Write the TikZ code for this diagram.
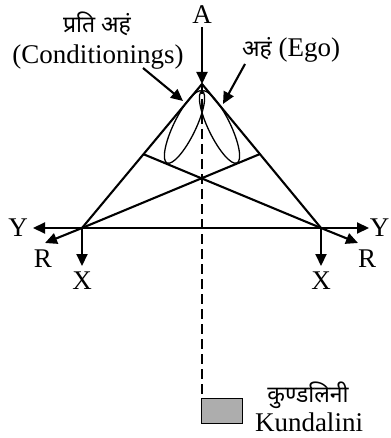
\documentclass[tikz,border=0pt]{standalone}
\usepackage{fontspec}
\setmainfont{Liberation Serif}
\newfontfamily\deva[Script=Devanagari]{Noto Sans}
\usetikzlibrary{arrows.meta}
\begin{document}
\begin{tikzpicture}[x=1pt,y=-1pt,
  thick line/.style={line width=2.1pt},
  thin line/.style={line width=1.3pt},
  arr/.style={line width=2.1pt,-{Triangle[length=12pt,width=11pt]}},
  lbl/.style={font=\fontsize{27}{30}\selectfont,inner sep=0pt},
  dlbl/.style={font=\deva\fontsize{23}{26}\selectfont,inner sep=0pt}]
\useasboundingbox (0,0) rectangle (390,438);
% points
\coordinate (apex) at (202,84);
\coordinate (L) at (82,228);
\coordinate (Rc) at (321,228);
\coordinate (P) at (143,154);
\coordinate (Q) at (260,154);
\coordinate (Atop) at (202,27);
\coordinate (YL) at (33,228);
\coordinate (YR) at (369,228);
\coordinate (RL) at (45,243);
\coordinate (RR) at (358,243);
\coordinate (XL) at (82,266);
\coordinate (XR) at (321,266);
\coordinate (condS) at (143,68);
\coordinate (condE) at (183,101);
\coordinate (egoS) at (245,64);
\coordinate (egoE) at (223,104);
% triangle
\draw[thick line,line join=miter] (L) -- (apex) -- (Rc);
\draw[thick line] (P) -- (Rc);
\draw[thick line] (Q) -- (L);
% ellipses
\draw[thin line,rotate around={64:(184.5,127)}] (184.5,127) ellipse[x radius=40, y radius=11];
\draw[thin line,rotate around={-64:(219.5,127)}] (219.5,127) ellipse[x radius=40, y radius=11];
% kundalini box
\node[draw,line width=1.4pt,fill=black!32,minimum width=41pt,minimum height=25pt,inner sep=0pt,anchor=north west] (box) at (201,398) {};
% dashed line
\draw[thick line,dash pattern=on 10pt off 5pt] (apex) -- (apex |- box.north);
% axes
\draw[arr] (L) -- (YL);
\draw[arr] (Rc) -- (YR);
\draw[thick line] (L) -- (Rc);
\draw[arr] (L) -- (RL);
\draw[arr] (Rc) -- (RR);
\draw[arr] (L) -- (XL);
\draw[arr] (Rc) -- (XR);
\draw[arr] (Atop) -- (apex);
\draw[arr] (condS) -- (condE);
\draw[arr] (egoS) -- (egoE);
% labels
\node[lbl] (tA) at (202,15) {A};
\node[dlbl] (tprati) at (97,24) {प्रति अहं};
\node[lbl] (tcond) at (98,57) {(Conditionings)};
\node[lbl] (tego) at (291,50) {{\deva\fontsize{23}{26}\selectfont अहं} (Ego)};
\node[lbl] (tYL) at (18,228) {Y};
\node[lbl] (tYR) at (379.5,228) {Y};
\node[lbl] (tRL) at (43,259) {R};
\node[lbl] (tRR) at (367,259) {R};
\node[lbl] (tXL) at (82,281) {X};
\node[lbl] (tXR) at (321,281) {X};
\node[dlbl] (tkd) at (308,395) {कुण्डलिनी};
\node[lbl] (tku) at (309,422.5) {Kundalini};
\end{tikzpicture}
\end{document}
